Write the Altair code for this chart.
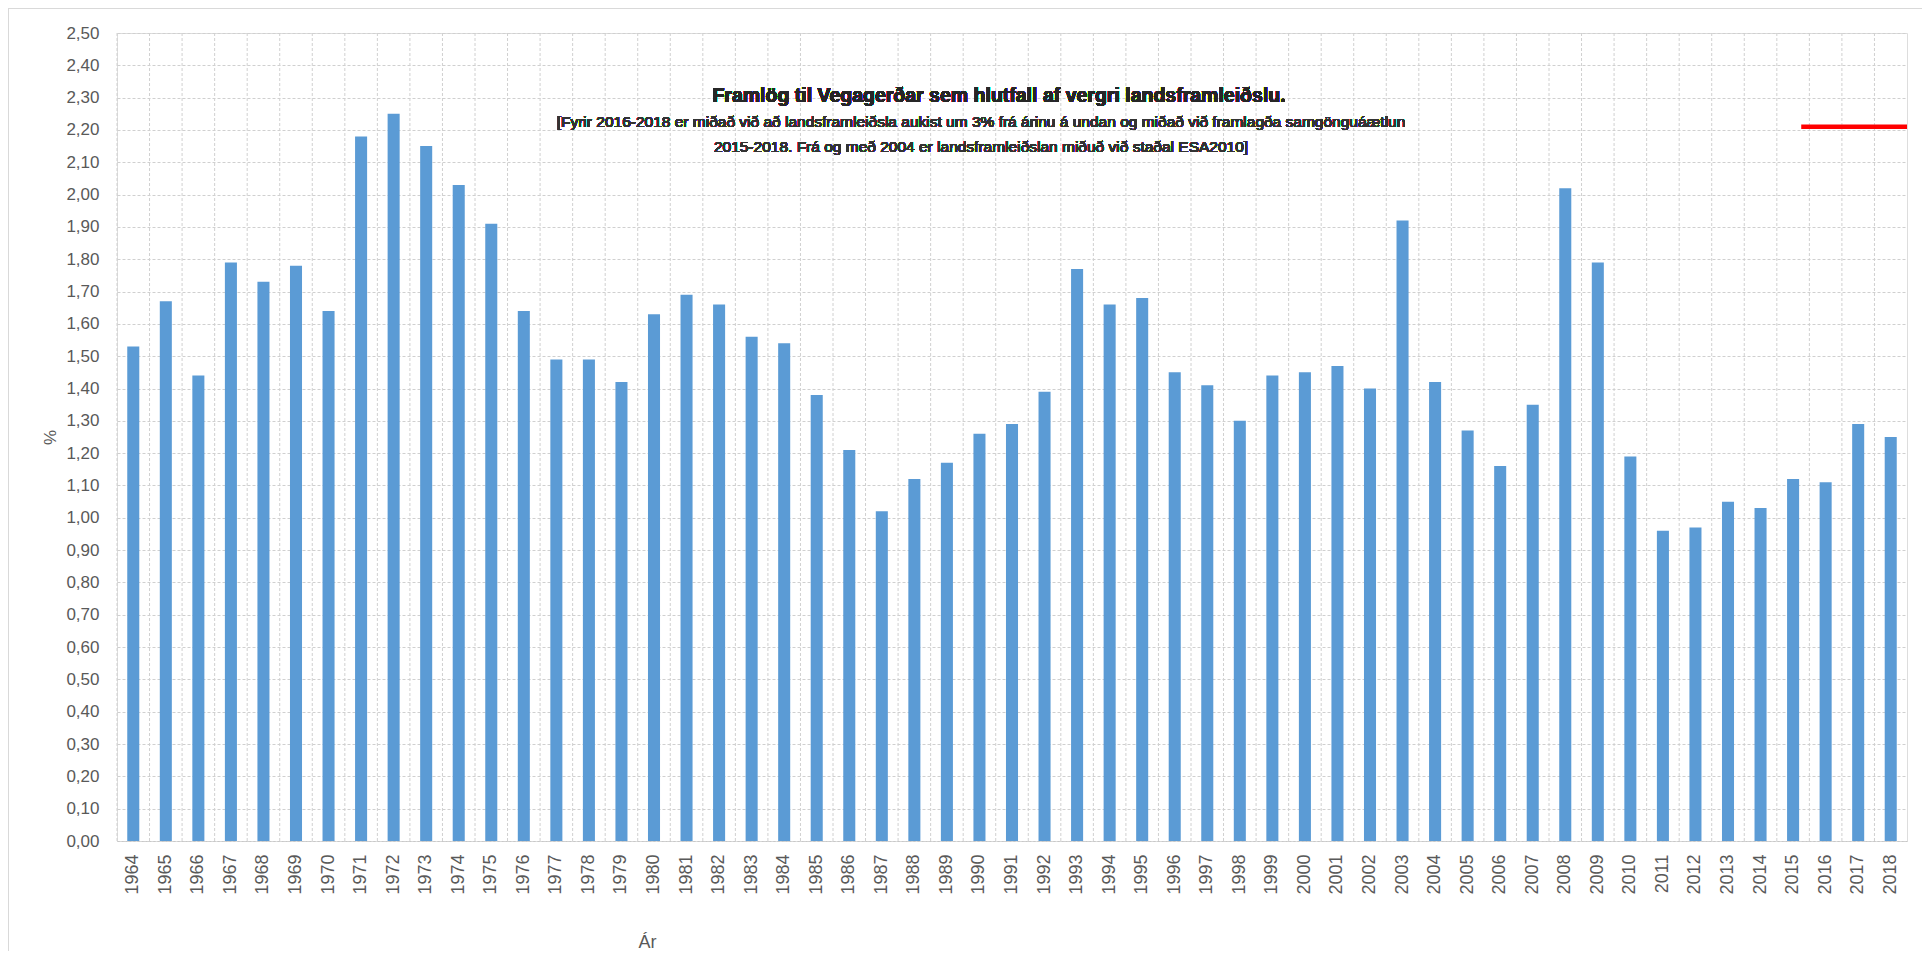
import altair as alt
import pandas as pd

years = [str(y) for y in range(1964, 2019)]
values = [1.53, 1.67, 1.44, 1.79, 1.73, 1.78, 1.64, 2.18, 2.25, 2.15,
          2.03, 1.91, 1.64, 1.49, 1.49, 1.42, 1.63, 1.69, 1.66, 1.56,
          1.54, 1.38, 1.21, 1.02, 1.12, 1.17, 1.26, 1.29, 1.39, 1.77,
          1.66, 1.68, 1.45, 1.41, 1.30, 1.44, 1.45, 1.47, 1.40, 1.92,
          1.42, 1.27, 1.16, 1.35, 2.02, 1.79, 1.19, 0.96, 0.97, 1.05,
          1.03, 1.12, 1.11, 1.29, 1.25]

target_start = ["2015"]
target_end = ["2018"]
target_value = [2.21]

y_ticks = [round(i * 0.1, 2) for i in range(26)]

title_text = "Framlög til Vegagerðar sem hlutfall af vergri landsframleiðslu."
sub1 = "[Fyrir 2016-2018 er miðað við að landsframleiðsla aukist um 3% frá árinu á undan og miðað við framlagða samgönguáætlun"
sub2 = "2015-2018. Frá og með 2004 er landsframleiðslan miðuð við staðal ESA2010]"

df = pd.DataFrame({"year": years, "value": values})
tdf = pd.DataFrame({"year": target_start, "e": target_end, "value": target_value})

W, H = 1790, 808
FONT = "Liberation Sans Narrow, Liberation Sans, Arial"
GRID = "#d0d0d0"
TXT = "#595959"

xscale = alt.Scale(domain=years, paddingInner=0, paddingOuter=0)
yscale = alt.Scale(domain=[0, 2.5], nice=False)

xaxis = alt.Axis(title="Ár", labelAngle=-90, labelFontSize=18, labelColor=TXT,
                 labelFont="Liberation Sans", labelPadding=13, ticks=False,
                 labelOverlap=False,
                 domainColor="#c8c8c8", domainDash=[2, 2],
                 titleFont="Liberation Sans", titleFontSize=18, titleFontWeight="normal",
                 titleColor=TXT, titleX=530, titleY=106, titleBaseline="alphabetic")
yaxis = alt.Axis(title="%", values=y_ticks, labelFontSize=17, labelColor=TXT,
                 labelFont="Liberation Sans", labelOverlap=False,
                 labelExpr="replace(format(datum.value, '.2f'), '.', ',')",
                 labelPadding=18, ticks=False, domain=False,
                 grid=True, gridColor=GRID, gridDash=[3, 2], gridWidth=1,
                 titleFont="Liberation Sans", titleFontSize=17, titleFontWeight="normal",
                 titleColor=TXT, titleX=-58, titleY=404, titleAngle=-90)

base = alt.Chart(df)

bars = base.mark_bar(color="#5B9BD5", width=alt.RelativeBandSize(0.37)).encode(
    x=alt.X("year:N", scale=xscale, sort=None, axis=xaxis),
    y=alt.Y("value:Q", scale=yscale, axis=yaxis),
)

vgrid = base.mark_rule(color=GRID, strokeDash=[3, 2], strokeWidth=1).encode(
    x=alt.X("year:N", scale=xscale, sort=None, bandPosition=0, axis=xaxis),
)

target = alt.Chart(tdf).mark_rule(color="#ff0000", strokeWidth=4.5).encode(
    x=alt.X("year:N", scale=xscale, sort=None, bandPosition=0.75, axis=xaxis),
    x2=alt.X2("e:N", bandPosition=1),
    y=alt.Y("value:Q", scale=yscale, axis=yaxis),
)

t1 = alt.Chart(df).mark_text(font=FONT, fontSize=19.5, fontWeight="bold", color="#262626",
                             align="center", baseline="alphabetic").encode(
    x=alt.value(882), y=alt.value(69), text=alt.value(title_text))
t2 = alt.Chart(df).mark_text(font=FONT, fontSize=15.5, color="#333333",
                             align="center", baseline="alphabetic").encode(
    x=alt.value(864), y=alt.value(94), text=alt.value(sub1))
t3 = alt.Chart(df).mark_text(font=FONT, fontSize=15.5, color="#333333",
                             align="center", baseline="alphabetic").encode(
    x=alt.value(864), y=alt.value(119), text=alt.value(sub2))

frame = alt.Chart(df).mark_rect(fill=None, stroke="#d9d9d9", strokeWidth=1, clip=False).encode(
    x=alt.value(-108.5), x2=alt.value(1840), y=alt.value(-24.5), y2=alt.value(960))

chart = alt.layer(frame, vgrid, bars, target, t1, t2, t3).properties(
    width=W, height=H,
    autosize=alt.AutoSizeParams(type="none"),
    padding={"left": 109, "top": 25, "right": 15, "bottom": 110},
).configure_view(stroke=GRID, strokeDash=[3, 2]).configure(background="white")

chart.save("out.html", embed_options={"renderer": "svg", "actions": False})
